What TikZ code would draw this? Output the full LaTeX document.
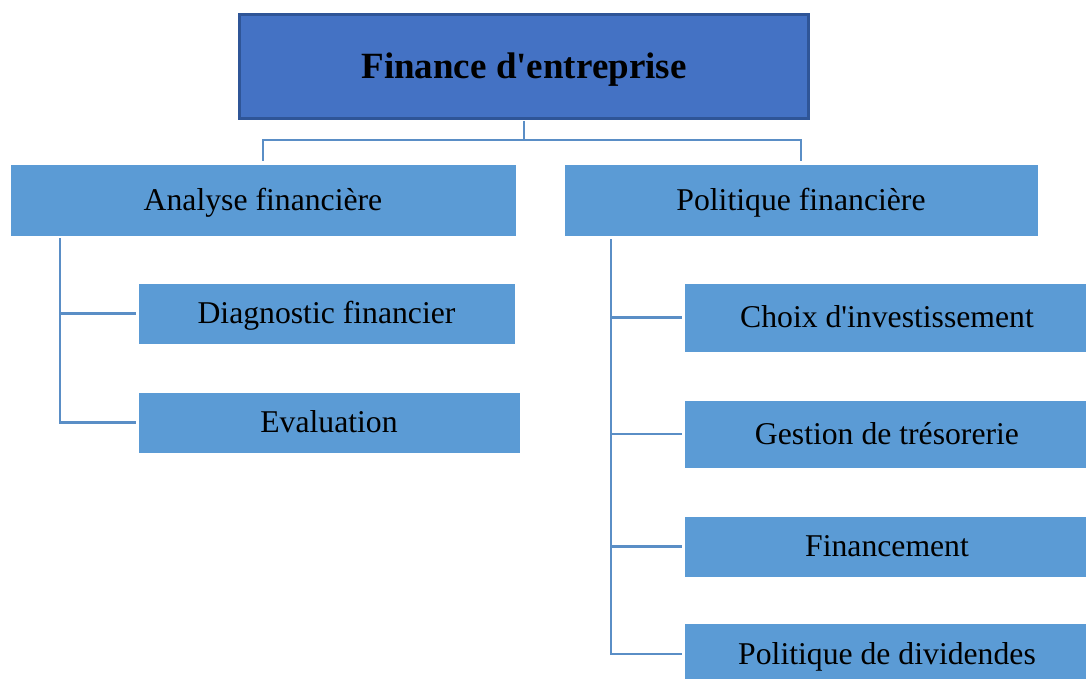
\documentclass[tikz,border=0pt]{standalone}
\usepackage{fontspec}
\setmainfont{Liberation Serif}[Ligatures=TeXOff]
\usetikzlibrary{calc}
\definecolor{topfill}{HTML}{4472C4}
\definecolor{topedge}{HTML}{2F5597}
\definecolor{boxfill}{HTML}{5B9BD5}
\definecolor{linec}{HTML}{5A8EC6}
\begin{document}
\begin{tikzpicture}[x=1pt,y=-1pt,
  topbox/.style={draw=topedge, line width=3pt, fill=topfill, inner sep=0pt,
    text height=30pt, text depth=6pt,
    font=\fontsize{37}{40}\selectfont\bfseries},
  catbox/.style={fill=boxfill, draw=white, line width=0.6pt, inner sep=0pt,
    text height=26pt, text depth=6pt,
    font=\fontsize{31.7}{34}\selectfont},
  conn/.style={draw=linec, line width=2.5pt}]
\clip (0,0) rectangle (1086,679);
\node[topbox, minimum width=569pt, minimum height=104pt] (fe) at (524,66.5) {Finance d'entreprise};
\node[catbox, minimum width=506pt, minimum height=72pt] (af) at (263,200) {Analyse financière};
\node[catbox, minimum width=474pt, minimum height=72pt] (pf) at (801,200) {Politique financière};
\node[catbox, minimum width=377pt, minimum height=61pt] (dg) at (326.5,313.5) {Diagnostic financier};
\node[catbox, minimum width=382pt, minimum height=61pt] (ev) at (329,422.5) {Evaluation};
\node[catbox, minimum width=406pt, minimum height=69pt] (ci) at (887,317.5) {Choix d'investissement};
\node[catbox, minimum width=406pt, minimum height=68pt] (gt) at (887,434) {Gestion de trésorerie};
\node[catbox, minimum width=406pt, minimum height=61pt] (fi) at (887,546.5) {Financement};
\node[catbox, minimum width=406pt, minimum height=62pt] (pd) at (887,654) {Politique de dividendes};
\coordinate (hy) at (0,140);
\coordinate (lt) at (60,238);
\coordinate (rt) at (611,239);
\draw[conn] ([yshift=-1pt]fe.south) -- (fe.south |- hy);
\draw[conn] ([yshift=3pt]af.north) -- (af.north |- hy) -- (pf.north |- hy) -- ([yshift=3pt]pf.north);
\draw[conn] (lt) |- ([xshift=-2pt]dg.west);
\draw[conn] (lt) |- ([xshift=-2pt]ev.west);
\draw[conn] (rt) |- ([xshift=-2pt]ci.west);
\draw[conn] (rt) |- ([xshift=-2pt]gt.west);
\draw[conn] (rt) |- ([xshift=-2pt]fi.west);
\draw[conn] (rt) |- ([xshift=-2pt]pd.west);
\end{tikzpicture}
\end{document}
